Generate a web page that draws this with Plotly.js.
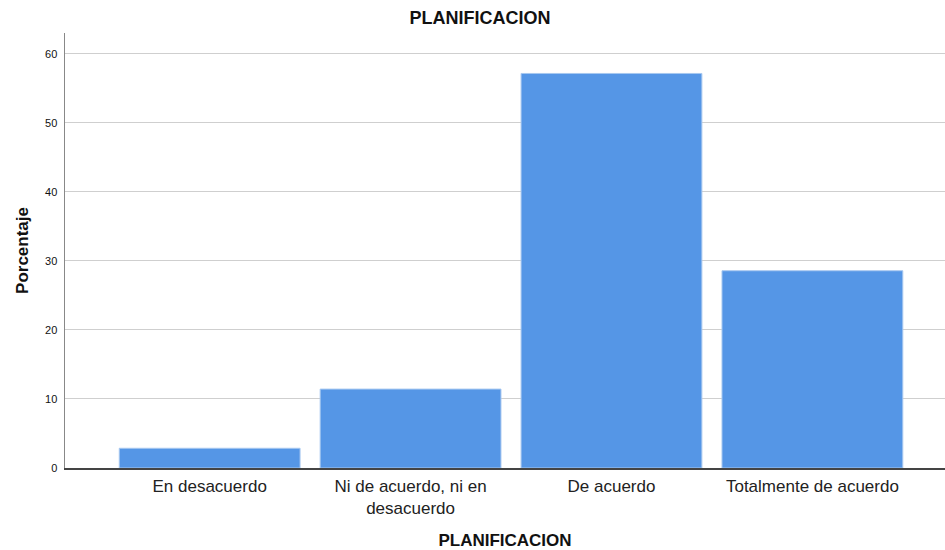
<!DOCTYPE html>
<html>
<head>
<meta charset="utf-8">
<script src="https://cdn.plot.ly/plotly-3.0.1.min.js"></script>
<style>html,body{margin:0;padding:0;background:#fff}#chart{width:945px;height:550px}</style>
</head>
<body>
<div id="chart"></div>
<script>
const categories = ["En desacuerdo", "Ni de acuerdo, ni en<br>desacuerdo", "De acuerdo", "Totalmente de acuerdo"];
const percentages = [2.86, 11.43, 57.14, 28.57];
const yTicks = [0, 10, 20, 30, 40, 50, 60];

const trace = {
  type: "bar",
  x: [0, 1, 2, 3],
  y: percentages,
  marker: {color: "#5596e6", line: {color: "#a8c8f0", width: 1}},
  width: 0.9,
  hoverinfo: "y"
};

const layout = {
  width: 945, height: 550,
  margin: {l: 65, r: 0, t: 33, b: 82},
  paper_bgcolor: "#fff", plot_bgcolor: "#fff",
  font: {family: "Liberation Sans, Arial, sans-serif", color: "#222"},
  title: {text: "<b>PLANIFICACION</b>", font: {size: 18, color: "#111"}, x: 0.508, xanchor: "center", y: 0.968, yanchor: "middle"},
  showlegend: false,
  xaxis: {
    range: [-0.72, 3.66],
    tickvals: [0, 1, 2, 3],
    ticktext: categories,
    tickfont: {size: 17, color: "#222"},
    ticks: "", ticklabelstandoff: 2, showgrid: false, zeroline: false,
    showline: true, linecolor: "#444", linewidth: 1.5,
    title: {text: "<b>PLANIFICACION</b>", font: {size: 17, color: "#111"}, standoff: 20}
  },
  yaxis: {
    range: [0, 63],
    tickvals: yTicks,
    tickfont: {size: 11, color: "#111"},
    ticks: "", ticklabelstandoff: 4,
    showgrid: true, gridcolor: "#cfcfcf", gridwidth: 1,
    zeroline: false,
    showline: true, linecolor: "#888", linewidth: 1.5,
    title: {text: "<b>Porcentaje</b>", font: {size: 17, color: "#111"}, standoff: 12}
  }
};

Plotly.newPlot("chart", [trace], layout, {displayModeBar: false, staticPlot: true});
</script>
</body>
</html>
